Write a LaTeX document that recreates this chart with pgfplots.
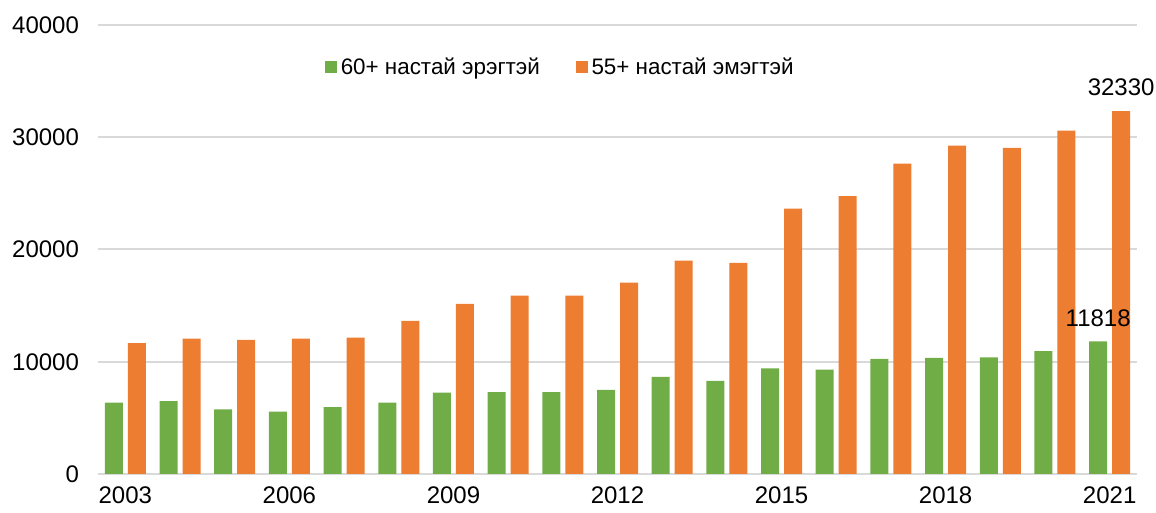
\documentclass[border=0pt]{standalone}
\usepackage{pgfplots}
\usepackage{pgfplotstable}
\pgfplotsset{compat=1.18}
\usepackage{fontspec}
\setmainfont{Liberation Sans}

\definecolor{cgreen}{HTML}{70AD47}
\definecolor{corange}{HTML}{ED7D31}
\definecolor{cgrid}{HTML}{D9D9D9}

% 60+ men
\pgfplotstableread{
x y lbl
0 6350 {}
1 6500 {}
2 5750 {}
3 5550 {}
4 5950 {}
5 6350 {}
6 7250 {}
7 7300 {}
8 7300 {}
9 7500 {}
10 8650 {}
11 8300 {}
12 9400 {}
13 9300 {}
14 10250 {}
15 10350 {}
16 10400 {}
17 10950 {}
18 11818 11818
}\men

% 55+ women
\pgfplotstableread{
x y lbl
0 11650 {}
1 12050 {}
2 11950 {}
3 12050 {}
4 12150 {}
5 13650 {}
6 15150 {}
7 15900 {}
8 15900 {}
9 17050 {}
10 19000 {}
11 18800 {}
12 23650 {}
13 24750 {}
14 27650 {}
15 29250 {}
16 29050 {}
17 30600 {}
18 32330 32330
}\women

\begin{document}
\begin{tikzpicture}
\begin{axis}[
    scale only axis,
    width=519.5pt, height=224.5pt,
    ybar=2.5pt, bar width=9pt,
    xmin=-0.5, xmax=18.5,
    ymin=0, ymax=40000,
    xtick={0,3,...,18},
    xticklabels={2003,2006,2009,2012,2015,2018,2021},
    ytick={0,10000,20000,30000,40000},
    scaled y ticks=false,
    /pgf/number format/1000 sep={},
    /pgf/number format/assume math mode=true,
    tick label style={font=\fontsize{12}{14}\selectfont, text=black},
    major tick length=0pt,
    ymajorgrids=true,
    grid style={cgrid, line width=1pt},
    axis x line*=bottom,
    axis y line*=left,
    y axis line style={draw=none},
    x axis line style={cgrid, line width=1pt, -},
    yticklabel style={xshift=-6pt},
    xticklabel style={yshift=-3pt},
    point meta=explicit symbolic,
    nodes near coords,
    nodes near coords style={font=\fontsize{12}{14}\selectfont, text=black, yshift=4pt},
    legend columns=2,
    legend style={draw=none, fill=none, at={(0.446,0.906)}, anchor=center,
        font=\fontsize{11.2}{13}\selectfont,
        /tikz/every even column/.append style={column sep=16pt}},
    legend cell align=left,
    legend image code/.code={\fill[#1] (0pt,-2.9pt) rectangle (5.8pt,2.9pt);},
    clip=false,
]
\addplot[fill=cgreen, draw=none] table[x=x, y=y, meta=lbl] {\men};
\addplot[fill=corange, draw=none] table[x=x, y=y, meta=lbl] {\women};
\legend{60+ настай эрэгтэй, 55+ настай эмэгтэй}
\end{axis}
\pgfresetboundingbox
\path (current axis.south west) ++(-49pt,-19.5pt) coordinate (bl);
\path (current axis.north east) ++(9.5pt,12.5pt) coordinate (tr);
\path[use as bounding box] (bl) rectangle (tr);
\end{tikzpicture}
\end{document}
